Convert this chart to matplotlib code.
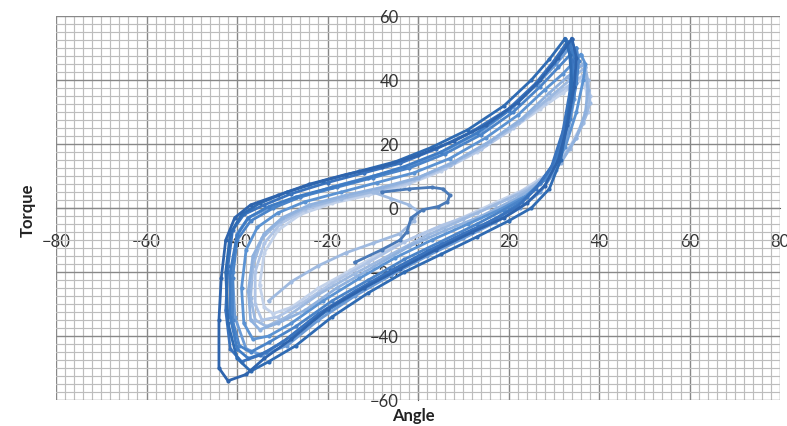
import numpy as np
import matplotlib
matplotlib.use("Agg")
from matplotlib import pyplot as plt
from matplotlib.ticker import MultipleLocator

# Hysteresis loops (angle, torque)
loop_a_x = [34, 31, 27, 22, 15, 8, 0, -8, -16, -24, -31, -37, -40.5, -42.5, -43.5, -44, -44,
            -42, -38, -34, -28, -20, -12, -4, 4, 12, 19, 24, 28, 31, 33, 34.5, 35, 34]
loop_a_y = [53, 47, 40, 33, 26, 21, 16.5, 13, 10.5, 7.5, 4, 1, -3, -10, -22, -35, -50,
            -54, -52, -47, -41, -31.5, -25, -19, -13, -7.5, -3, 1.5, 7, 15, 26, 38, 47, 53]

loop_b_x = [33, 30, 26, 20, 12, 4, -4, -12, -20, -28, -34, -38.5, -41, -42, -42.5, -41.5,
            -39, -35, -30, -22, -14, -6, 2, 10, 17, 22, 26, 29.5, 32, 33.5, 34, 33]
loop_b_y = [52, 46, 39, 31, 24, 18.5, 14, 11, 8, 4.5, 1, -2, -7, -18, -32, -44,
            -48, -46, -42, -33, -26, -19.5, -13.5, -8, -3.5, 0.5, 6, 13, 24, 36, 46, 52]

loop_j_x = [33.5, 30, 26, 20, 13, 5, -3, -11, -19, -27, -33, -37.5, -40, -41.5, -41.5, -40,
            -37.5, -33.5, -28, -20, -12, -4, 4, 12, 18, 23, 27, 30.5, 32.5, 34, 34.5, 33.5]
loop_j_y = [51.5, 45.5, 38.5, 30.5, 23.5, 17.5, 13, 9.5, 6.5, 3.5, 0.5, -3, -8.5, -20, -34, -44,
            -47, -45, -40, -32, -25, -18.5, -12.5, -7, -2.5, 2, 8, 15, 26, 38, 47, 51.5]

loop_c_x = [35, 31, 27, 21, 14, 6, -2, -10, -18, -26, -32, -37, -40, -41, -41, -39.5,
            -37, -33, -27, -19, -11, -3, 5, 13, 19, 24, 28, 31, 33.5, 35, 35.5, 35]
loop_c_y = [50, 44, 38, 30, 23, 17, 12.5, 9.5, 6.5, 3.5, 0, -4, -10, -22, -35, -43,
            -45, -42, -37, -29, -22.5, -16, -10.5, -5, -0.5, 3.5, 9, 17, 28, 39, 46, 50]

loop_d_x = [32.5, 29, 25, 19, 11, 3, -5, -13, -21, -29, -35, -39, -41.5, -42.5, -42, -40,
            -37, -33, -27, -19, -11, -3, 5, 13, 20, 25, 29, 31.5, 33, 34, 33.5, 32.5]
loop_d_y = [53, 46.5, 40, 32, 24.5, 19, 14.5, 11.5, 8.5, 5, 1.5, -2, -8, -20, -36, -47,
            -51, -48, -43, -34, -26.5, -20, -14.5, -9, -4, 0, 6, 15, 27, 39, 48, 53]

loop_e_x = [36, 32, 28, 22, 15, 7, -1, -9, -17, -25, -31, -35.5, -38, -39, -38.5, -36.5,
            -33, -28, -21, -13, -5, 3, 11, 18, 24, 29, 32.5, 35, 36.5, 37, 36]
loop_e_y = [48, 42, 37, 29, 22, 15.5, 11, 8, 5, 2, -1.5, -6, -13, -25, -36, -41,
            -40, -36, -29, -22, -15.5, -10, -5, -0.5, 4, 10, 19, 30, 40, 45, 48]

loop_f_x = [36.5, 33, 29, 23, 16, 8, 0, -8, -16, -24, -30, -34, -36.5, -37.5, -37, -35,
            -31, -25, -18, -10, -2, 6, 14, 21, 27, 31.5, 35, 37, 37.5, 37, 36.5]
loop_f_y = [45, 41, 36, 28, 21, 14.5, 9.5, 6.5, 4, 1, -3, -8, -15, -26, -35, -38,
            -36, -32, -25, -18.5, -12, -7, -2.5, 2.5, 7.5, 14, 22, 30, 37, 42, 45]

loop_k_x = [37, 33.5, 29, 22, 15, 7, -1, -9, -17, -25, -30.5, -34.5, -36.5, -37, -36, -33.5,
            -29, -22, -14, -6, 2, 10, 17, 24, 29.5, 33.5, 36.5, 38, 37.5, 37]
loop_k_y = [44, 40, 34.5, 26.5, 20, 13.5, 9, 5.5, 3, 0, -4, -9.5, -18, -28, -35, -37,
            -34, -27, -20.5, -14.5, -8.5, -3.5, 1, 5.5, 11, 18.5, 26.5, 33, 40, 44]

loop_g_x = [37, 33, 28, 21, 14, 6, -2, -10, -18, -25, -30.5, -34, -36, -36, -34.5, -31,
            -26, -19, -11, -3, 5, 13, 20, 26, 31, 35, 37.5, 38, 37.5, 37]
loop_g_y = [42, 38, 33, 25, 18.5, 12.5, 8, 5, 2.5, -0.5, -5, -11, -20, -30, -35, -34,
            -30, -23.5, -17, -10.5, -5.5, -1.5, 3, 7.5, 14, 22, 30, 35, 40, 42]

loop_h_x = [36, 32, 27, 20, 13, 5, -3, -11, -19, -26, -31, -34, -35, -34, -32, -28,
            -22, -15, -7, 1, 9, 16, 23, 29, 33.5, 36.5, 37.5, 37, 36]
loop_h_y = [40, 36, 31, 24, 17.5, 11.5, 7, 4, 1.5, -2, -7, -14, -24, -31, -33, -31,
            -25, -19.5, -13, -8, -3.5, 1, 5.5, 11, 19, 27, 33, 38, 40]

loop_i_x = [34, 30.5, 26.5, 21, 14, 6, -2, -10, -18, -26, -33, -37.5, -40, -41, -40.5, -38,
            -34.5, -29, -22, -14, -6, 2, 10, 17, 22.5, 27, 30.5, 33, 34.5, 35, 34]
loop_i_y = [51, 45, 39, 31.5, 24, 18, 13, 10, 7, 3.5, 0, -3, -8, -20, -34, -44,
            -46, -43, -35, -27.5, -21, -15, -9.5, -4.5, 0, 5, 12, 23, 34, 44, 51]

# start-up transients near the origin
start_x = [-8, -2, 3, 5.5, 7, 6.5, 4.5, 1, -1.5, -2.5, -4, -8, -14]
start_y = [5, 6, 6.5, 6, 4, 2, 0.5, -0.5, -3, -7.5, -10, -13, -17]
start2_x = [-10, -6, -2, 0, -1, -4, -10, -16, -22, -28, -33]
start2_y = [5, 3, 1, -1, -4, -8, -11, -14, -18, -23, -29]

series = [
    (loop_h_x, loop_h_y, '#c3d2ea'),
    (loop_g_x, loop_g_y, '#b0c5e6'),
    (loop_k_x, loop_k_y, '#9db9e0'),
    (loop_f_x, loop_f_y, '#8fb1de'),
    (start2_x, start2_y, '#9fbae0'),
    (loop_e_x, loop_e_y, '#5b93d3'),
    (loop_i_x, loop_i_y, '#6b9bd6'),
    (loop_c_x, loop_c_y, '#4a84c9'),
    (loop_j_x, loop_j_y, '#3f7cc4'),
    (loop_b_x, loop_b_y, '#3a73bd'),
    (loop_d_x, loop_d_y, '#2f6bb3'),
    (loop_a_x, loop_a_y, '#2e64ad'),
    (start_x, start_y, '#4a7ab8'),
]

xticks = [-80, -60, -40, -20, 0, 20, 40, 60, 80]
yticks = [-60, -40, -20, 0, 20, 40, 60]

plt.rcParams['font.family'] = ['Lato', 'DejaVu Sans']

fig = plt.figure(figsize=(7.87, 4.26), dpi=100)
ax = fig.add_axes([0.0712, 0.061, 0.920, 0.901])

ax.set_xlim(-80, 80)
ax.set_ylim(-60, 60)

# graph paper grid
ax.xaxis.set_major_locator(MultipleLocator(20))
ax.yaxis.set_major_locator(MultipleLocator(20))
ax.xaxis.set_minor_locator(MultipleLocator(2))
ax.yaxis.set_minor_locator(MultipleLocator(2.5))
ax.grid(which='minor', color='#bdbdbd', linewidth=0.85)
ax.grid(which='major', color='#888888', linewidth=1.0)
ax.set_axisbelow(True)

for xs, ys, c in series:
    ax.plot(xs, ys, color=c, linewidth=2.0, marker='o', markersize=3,
            markeredgewidth=0, solid_joinstyle='round')

# axes cross at the origin
for side in ['top', 'right']:
    ax.spines[side].set_visible(False)
ax.spines['left'].set_position('zero')
ax.spines['bottom'].set_position('zero')
ax.spines['left'].set_color('#5a5a5a')
ax.spines['bottom'].set_color('#5a5a5a')
ax.spines['left'].set_zorder(0.5)
ax.spines['bottom'].set_zorder(0.5)

ax.set_xticks(xticks)
ax.set_yticks(yticks)
ax.tick_params(which='both', length=0)
ax.tick_params(axis='x', pad=19, labelsize=12, labelcolor='#333333')
ax.tick_params(axis='y', pad=14, labelsize=12, labelcolor='#333333')

fig.text(28 / 787, 1 - 210 / 426, 'Torque', rotation=90, ha='center', va='center',
         fontsize=12, fontweight='bold', color='#222222')
fig.text(413 / 787, 1 - 416 / 426, 'Angle', ha='center', va='center',
         fontsize=12, fontweight='bold', color='#222222')

fig.savefig('out.png', dpi=100)
